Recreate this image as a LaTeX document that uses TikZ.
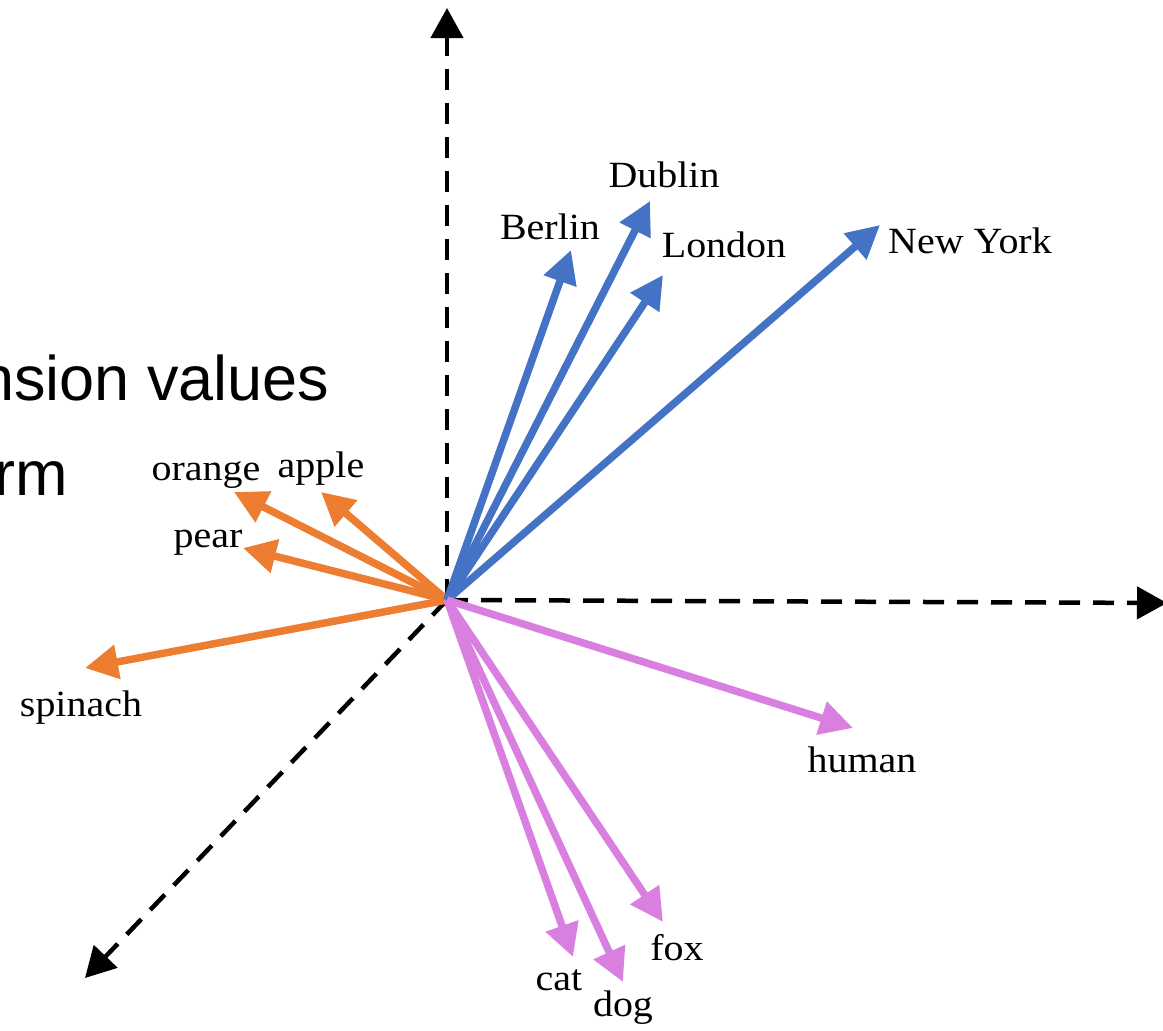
\documentclass[tikz,border=0pt]{standalone}
\usepackage{fontspec}
\setmainfont{Liberation Serif}[FakeStretch=1.08]
\newfontfamily\arialfont{Liberation Sans}
\usetikzlibrary{arrows.meta}
\definecolor{vblue}{RGB}{68,114,196}
\definecolor{vorange}{RGB}{237,125,49}
\definecolor{vpink}{RGB}{216,127,224}
\begin{document}
\begin{tikzpicture}[x=1pt,y=-1pt,
  axis/.style={line width=4.5pt, dash pattern=on 21pt off 13pt, -{Triangle[length=30pt,width=32pt]}},
  vec/.style={line width=7.5pt, -{Triangle[length=33pt,width=33pt]}},
  lbl/.style={font=\fontsize{37}{40}\selectfont, anchor=base, inner sep=0pt},
  big/.style={font=\arialfont\fontsize{63}{70}\selectfont, anchor=base west, inner sep=0pt}]
\useasboundingbox (0,0) rectangle (1163,1031);
\coordinate (O) at (447,600);
% axis ends
\coordinate (ay) at (447,8);
\coordinate (ax) at (1167,603);
\coordinate (az) at (85,978);
% vector tips
\coordinate (tBerlin) at (571,250);
\coordinate (tDublin) at (650,201);
\coordinate (tLondon) at (663,275);
\coordinate (tNY) at (880,225);
\coordinate (tOrange) at (234,492);
\coordinate (tApple) at (321,492);
\coordinate (tPear) at (243,548);
\coordinate (tSpinach) at (85,668);
\coordinate (tHuman) at (853,728);
\coordinate (tFox) at (663,922);
\coordinate (tCat) at (573,957);
\coordinate (tDog) at (623,982);
% background text (cut off at the left edge, as in the reference)
\node[big] (t1) at (-21,400) {nsion values};
\node[big] (t2) at (-6,495) {rm};
% axes
\draw[axis] (O) -- (ay);
\draw[axis] (O) -- (ax);
\draw[axis] (O) -- (az);
% vectors
\draw[vec, vorange] (O) -- (tOrange);
\draw[vec, vorange] (O) -- (tApple);
\draw[vec, vorange] (O) -- (tPear);
\draw[vec, vorange] (O) -- (tSpinach);
\draw[vec, vblue] (O) -- (tBerlin);
\draw[vec, vblue] (O) -- (tDublin);
\draw[vec, vblue] (O) -- (tLondon);
\draw[vec, vblue] (O) -- (tNY);
\draw[vec, vpink] (O) -- (tHuman);
\draw[vec, vpink] (O) -- (tFox);
\draw[vec, vpink] (O) -- (tCat);
\draw[vec, vpink] (O) -- (tDog);
% labels
\node[lbl] (lBerlin) at (550,239) {Berlin};
\node[lbl] (lDublin) at (664,187) {Dublin};
\node[lbl] (lLondon) at (724,257) {London};
\node[lbl] (lNY) at (970,253) {New York};
\node[lbl] (lOrange) at (206,480) {orange};
\node[lbl] (lApple) at (321,477) {apple};
\node[lbl] (lPear) at (208,547) {pear};
\node[lbl] (lSpinach) at (81,716) {spinach};
\node[lbl] (lHuman) at (862,772) {human};
\node[lbl] (lFox) at (677,960) {fox};
\node[lbl] (lCat) at (559,990) {cat};
\node[lbl] (lDog) at (623,1016) {dog};
\end{tikzpicture}
\end{document}
